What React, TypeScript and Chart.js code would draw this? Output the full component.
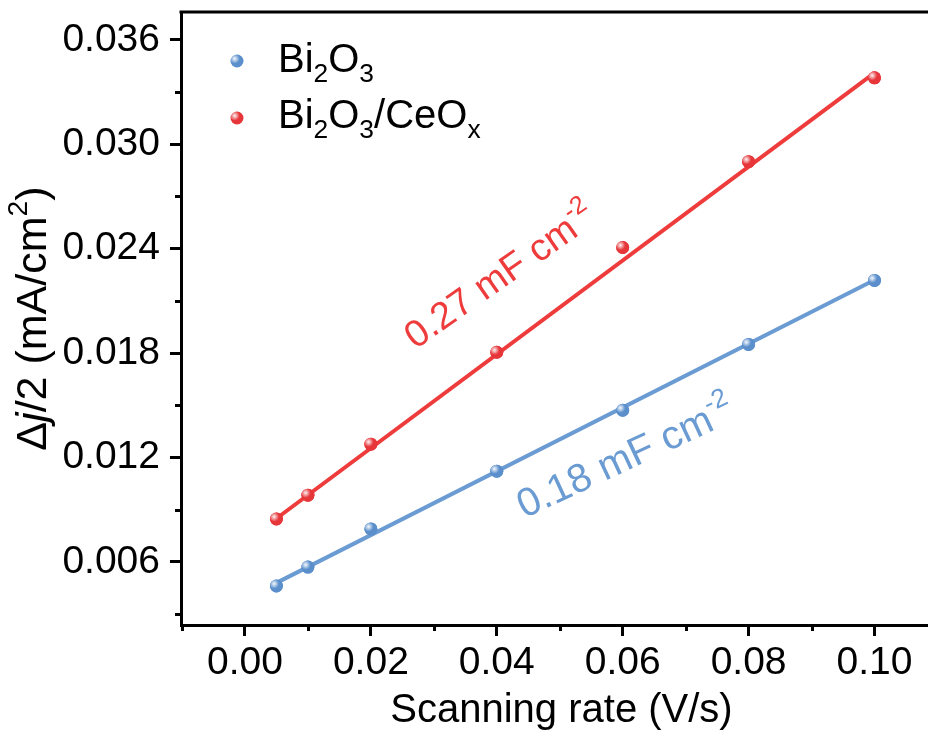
import React, { useEffect, useRef } from 'react';
import { Chart, registerables } from 'chart.js';

Chart.register(...registerables);

// ---- data ----
const scanRates = [0.005, 0.01, 0.02, 0.04, 0.06, 0.08, 0.1];
const bi2o3Values = [0.00462, 0.00571, 0.0079, 0.01122, 0.01472, 0.0185, 0.02218];
const ceoxValues = [0.00847, 0.00984, 0.01277, 0.01805, 0.02407, 0.029, 0.03382];
const fitRates = [0.005, 0.1];
const bi2o3Fit = [0.0048, 0.0222];
const ceoxFit = [0.0085, 0.0341];
const xMajorTicks = [0, 0.02, 0.04, 0.06, 0.08, 0.1];
const xMinorTicks = [-0.01, 0.01, 0.03, 0.05, 0.07, 0.09];
const yMajorTicks = [0.006, 0.012, 0.018, 0.024, 0.03, 0.036];
const yMinorTicks = [0.003, 0.009, 0.015, 0.021, 0.027, 0.033];

const BLUE_LINE = '#6a9bd2';
const BLUE_PT = '#5b8fcc';
const RED_LINE = '#ee3b3b';
const RED_PT = '#e6363a';
const FONT = '"Liberation Sans", Arial, Helvetica, sans-serif';

type Seg = { t: string; s?: number; dy?: number; it?: boolean };

function drawRich(
  ctx: CanvasRenderingContext2D,
  segs: Seg[],
  x: number,
  y: number,
  angleDeg: number,
  size: number,
  color: string,
  align: 'left' | 'center' = 'left'
) {
  ctx.save();
  ctx.translate(x, y);
  ctx.rotate((angleDeg * Math.PI) / 180);
  ctx.fillStyle = color;
  ctx.textBaseline = 'alphabetic';
  ctx.textAlign = 'left';
  const fontOf = (s: Seg) => `${s.it ? 'italic ' : ''}${size * (s.s ?? 1)}px ${FONT}`;
  let total = 0;
  for (const s of segs) {
    ctx.font = fontOf(s);
    total += ctx.measureText(s.t).width;
  }
  let cx = align === 'center' ? -total / 2 : 0;
  for (const s of segs) {
    ctx.font = fontOf(s);
    ctx.fillText(s.t, cx, (s.dy ?? 0) * size);
    cx += ctx.measureText(s.t).width;
  }
  ctx.restore();
}

function drawBall(ctx: CanvasRenderingContext2D, x: number, y: number, r: number, color: string) {
  ctx.save();
  ctx.beginPath();
  ctx.arc(x, y, r, 0, Math.PI * 2);
  ctx.fillStyle = color;
  ctx.fill();
  const g = ctx.createRadialGradient(x - r * 0.35, y - r * 0.35, 0, x - r * 0.35, y - r * 0.35, r * 0.75);
  g.addColorStop(0, 'rgba(255,255,255,0.95)');
  g.addColorStop(1, 'rgba(255,255,255,0)');
  ctx.beginPath();
  ctx.arc(x, y, r, 0, Math.PI * 2);
  ctx.fillStyle = g;
  ctx.fill();
  ctx.restore();
}

const sub = (t: string): Seg => ({ t, s: 0.66, dy: 0.25 });
const sup = (t: string): Seg => ({ t, s: 0.66, dy: -0.45 });

const decorPlugin = {
  id: 'decor',
  afterDatasetsDraw(chart: any) {
    const ctx: CanvasRenderingContext2D = chart.ctx;
    const xs = chart.scales.x;
    const ys = chart.scales.y;

    // glossy highlights on scatter points
    [0, 1].forEach((di) => {
      const meta = chart.getDatasetMeta(di);
      const col = di === 0 ? BLUE_PT : RED_PT;
      meta.data.forEach((el: any) => drawBall(ctx, el.x, el.y, 6.5, col));
    });

    // slope annotations
    drawRich(
      ctx,
      [{ t: '0.27 mF cm' }, sup('-2')],
      xs.getPixelForValue(0.0271),
      ys.getPixelForValue(0.0182),
      -35,
      38,
      RED_LINE
    );
    drawRich(
      ctx,
      [{ t: '0.18 mF cm' }, sup('-2')],
      xs.getPixelForValue(0.0444),
      ys.getPixelForValue(0.0085),
      -25,
      40,
      BLUE_LINE
    );
  },
  afterDraw(chart: any) {
    const ctx: CanvasRenderingContext2D = chart.ctx;
    const xs = chart.scales.x;
    const ys = chart.scales.y;
    const area = chart.chartArea;
    ctx.save();
    ctx.strokeStyle = '#000';
    ctx.lineWidth = 3;
    // top frame line
    ctx.beginPath();
    ctx.moveTo(area.left - 1.5, area.top);
    ctx.lineTo(area.right, area.top);
    ctx.stroke();
    // minor ticks
    ctx.beginPath();
    xMinorTicks.forEach((v) => {
      const px = Math.round(xs.getPixelForValue(v)) + 0.5;
      ctx.moveTo(px, area.bottom);
      ctx.lineTo(px, area.bottom + 6);
    });
    yMinorTicks.forEach((v) => {
      const py = Math.round(ys.getPixelForValue(v)) + 0.5;
      ctx.moveTo(area.left, py);
      ctx.lineTo(area.left - 6, py);
    });
    ctx.stroke();
    ctx.restore();

    // axis titles
    drawRich(ctx, [{ t: 'Scanning rate (V/s)' }], (area.left + area.right) / 2 + 7, 722, 0, 40, '#000', 'center');
    drawRich(
      ctx,
      [{ t: 'Δ' }, { t: 'j', it: true }, { t: '/2 (mA/cm' }, sup('2'), { t: ')' }],
      46,
      (area.top + area.bottom) / 2,
      -90,
      43,
      '#000',
      'center'
    );

    // legend
    drawBall(ctx, 237, 61, 6.5, BLUE_PT);
    drawBall(ctx, 237, 118, 6.5, RED_PT);
    drawRich(ctx, [{ t: 'Bi' }, sub('2'), { t: 'O' }, sub('3')], 278, 72, 0, 40, '#000');
    drawRich(ctx, [{ t: 'Bi' }, sub('2'), { t: 'O' }, sub('3'), { t: '/CeO' }, sub('x')], 278, 128, 0, 40, '#000');
  },
};

export default function App() {
  const ref = useRef<HTMLCanvasElement | null>(null);

  useEffect(() => {
    if (!ref.current) return;
    const chart = new Chart(ref.current, {
      type: 'scatter',
      data: {
        datasets: [
          {
            label: 'Bi2O3',
            data: scanRates.map((x, i) => ({ x, y: bi2o3Values[i] })),
            backgroundColor: BLUE_PT,
            borderWidth: 0,
            pointRadius: 6.5,
            order: 0,
          },
          {
            label: 'Bi2O3/CeOx',
            data: scanRates.map((x, i) => ({ x, y: ceoxValues[i] })),
            backgroundColor: RED_PT,
            borderWidth: 0,
            pointRadius: 6.5,
            order: 0,
          },
          {
            label: 'Bi2O3 fit',
            data: fitRates.map((x, i) => ({ x, y: bi2o3Fit[i] })),
            showLine: true,
            borderColor: BLUE_LINE,
            borderWidth: 4,
            pointRadius: 0,
            order: 1,
          },
          {
            label: 'Bi2O3/CeOx fit',
            data: fitRates.map((x, i) => ({ x, y: ceoxFit[i] })),
            showLine: true,
            borderColor: RED_LINE,
            borderWidth: 4,
            pointRadius: 0,
            order: 1,
          },
        ],
      },
      options: {
        animation: false,
        responsive: true,
        maintainAspectRatio: false,
        events: [],
        layout: { autoPadding: false, padding: { top: 12, right: 0, left: 0, bottom: 0 } },
        plugins: { legend: { display: false }, tooltip: { enabled: false } },
        scales: {
          x: {
            type: 'linear',
            min: -0.01016,
            max: 0.1085,
            afterBuildTicks: (s: any) => {
              s.ticks = xMajorTicks.map((value) => ({ value }));
            },
            afterFit: (s: any) => {
              s.height = 110;
              s.paddingLeft = 0;
              s.paddingRight = 0;
            },
            ticks: {
              color: '#000',
              font: { family: FONT, size: 39 },
              padding: 4,
              maxRotation: 0,
              autoSkip: false,
              callback: (v: any) => Number(v).toFixed(2),
            },
            grid: {
              display: true,
              drawOnChartArea: false,
              drawTicks: true,
              tickLength: 11,
              tickWidth: 3,
              tickColor: '#000',
            },
            border: { display: true, color: '#000', width: 3 },
          },
          y: {
            type: 'linear',
            min: 0.00238,
            max: 0.0376,
            afterBuildTicks: (s: any) => {
              s.ticks = yMajorTicks.map((value) => ({ value }));
            },
            afterFit: (s: any) => {
              s.width = 181;
              s.paddingTop = 0;
              s.paddingBottom = 0;
            },
            ticks: {
              color: '#000',
              font: { family: FONT, size: 39 },
              padding: 10,
              autoSkip: false,
              callback: (v: any) => Number(v).toFixed(3),
            },
            grid: {
              display: true,
              drawOnChartArea: false,
              drawTicks: true,
              tickLength: 11,
              tickWidth: 3,
              tickColor: '#000',
            },
            border: { display: true, color: '#000', width: 3 },
          },
        },
      },
      plugins: [decorPlugin],
    } as any);
    return () => chart.destroy();
  }, []);

  return (
    <div style={{ position: 'fixed', left: 0, top: 0, width: 928, height: 735, background: '#fff' }}>
      <canvas ref={ref} />
    </div>
  );
}
